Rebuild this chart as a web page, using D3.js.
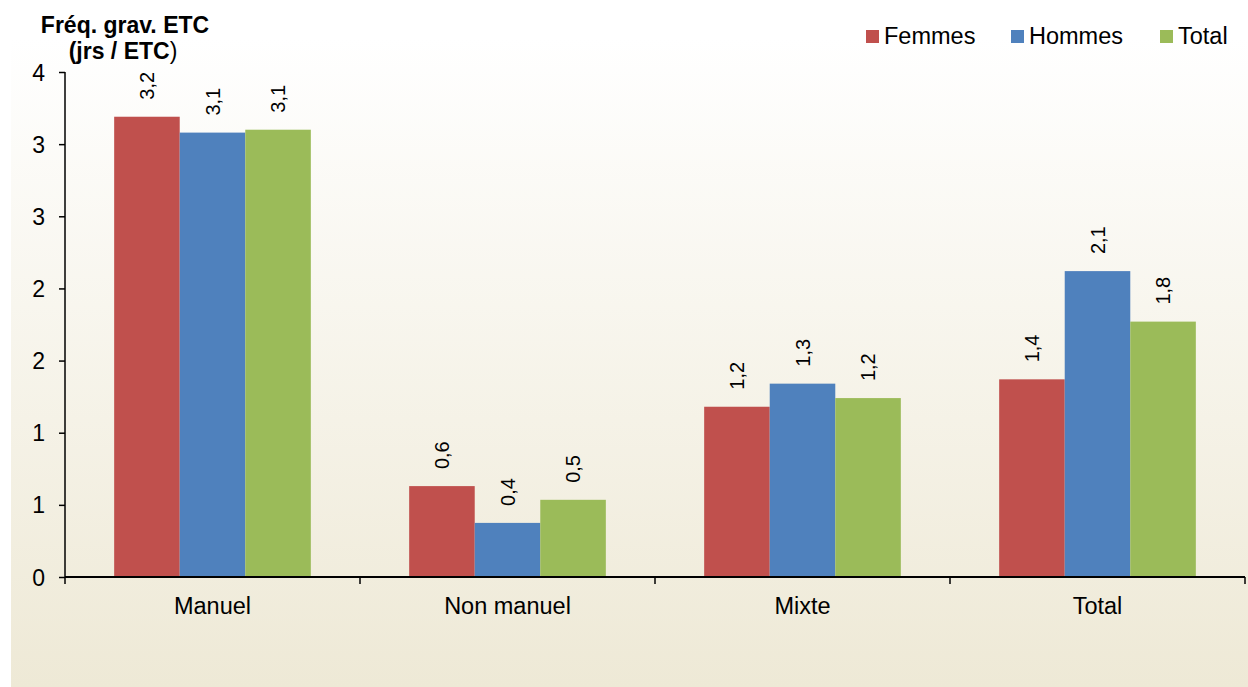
<!DOCTYPE html>
<html>
<head>
<meta charset="utf-8">
<script src="https://cdn.jsdelivr.net/npm/d3@7"></script>
<style>
  body { margin: 0; background: #fff; }
  text { font-family: "Liberation Sans", Arial, sans-serif; fill: #000; }
</style>
</head>
<body>
<svg id="chart" width="1248" height="687"></svg>
<script>
// chart data
var categories = ["Manuel", "Non manuel", "Mixte", "Total"];
var seriesNames = ["Femmes", "Hommes", "Total"];
var femmes = [3.19, 0.63, 1.18, 1.37];
var hommes = [3.08, 0.375, 1.34, 2.12];
var total = [3.10, 0.535, 1.24, 1.77];
var yTicks = [0, 0.5, 1, 1.5, 2, 2.5, 3, 3.5];
var colors = ["#C0504D", "#4F81BD", "#9BBB59"];

var svg = d3.select("#chart");

// background gradient area
var defs = svg.append("defs");
var grad = defs.append("linearGradient")
    .attr("id", "bg").attr("x1", 0).attr("y1", 0).attr("x2", 0).attr("y2", 1);
grad.append("stop").attr("offset", "0%").attr("stop-color", "#FFFFFF");
grad.append("stop").attr("offset", "100%").attr("stop-color", "#EEE9D6");
svg.append("rect")
    .attr("x", 11).attr("y", 38).attr("width", 1237).attr("height", 649)
    .attr("fill", "url(#bg)");

var margin = {top: 72, left: 65, right: 3, bottom: 110};
var width = 1248 - margin.left - margin.right,
    height = 577 - margin.top;

var g = svg.append("g")
    .attr("transform", "translate(" + margin.left + "," + margin.top + ")");

var x0 = d3.scaleBand().domain(categories).range([0, width]).paddingInner(0).paddingOuter(0);
// gap width 150%: category = 4.5 bar widths
var bw = x0.bandwidth() / 4.5;
var x1 = d3.scaleBand().domain(seriesNames).range([0.75 * bw, 3.75 * bw]);

var y = d3.scaleLinear().domain([0, 3.5]).range([height, 0]);

var data = categories.map(function(c, i) {
    return {cat: c, vals: [femmes[i], hommes[i], total[i]]};
});

// bars
var groups = g.selectAll("g.grp").data(data).enter().append("g")
    .attr("class", "grp")
    .attr("transform", function(d) { return "translate(" + x0(d.cat) + ",0)"; });

groups.selectAll("rect")
    .data(function(d) { return d.vals.map(function(v, j) { return {s: seriesNames[j], v: v, j: j}; }); })
    .enter().append("rect")
    .attr("x", function(d) { return x1(d.s); })
    .attr("width", x1.bandwidth())
    .attr("y", function(d) { return y(d.v); })
    .attr("height", function(d) { return height - y(d.v); })
    .attr("fill", function(d) { return colors[d.j]; });

// value labels, rotated
groups.selectAll("text.val")
    .data(function(d) { return d.vals.map(function(v, j) { return {s: seriesNames[j], v: v}; }); })
    .enter().append("text")
    .attr("class", "val")
    .attr("transform", function(d) {
        return "translate(" + (x1(d.s) + x1.bandwidth() / 2 + 7) + "," + (y(d.v) - 17) + ") rotate(-90)";
    })
    .attr("text-anchor", "start")
    .style("font-size", "20px")
    .text(function(d) { return d3.format(".1f")(d.v).replace(".", ","); });

// y axis
var yAxis = g.append("g")
    .call(d3.axisLeft(y).tickValues(yTicks).tickSize(6).tickPadding(14)
        .tickFormat(function(d) { return Math.round(d); }));
yAxis.select(".domain").attr("stroke", "#000").attr("stroke-width", 1.5)
    .attr("d", "M0," + height + "V0");
yAxis.selectAll(".tick line").attr("stroke", "#000").attr("stroke-width", 1.5);
yAxis.selectAll("text").style("font-size", "23px").attr("dy", "0.35em");

// x axis
var xAxis = g.append("g")
    .attr("transform", "translate(0," + height + ")")
    .call(d3.axisBottom(x0).tickSize(0).tickPadding(20));
xAxis.select(".domain").attr("stroke", "#000").attr("stroke-width", 2).attr("d", "M0,0H" + width);
xAxis.selectAll("text").style("font-size", "23.5px");
xAxis.selectAll("line.sep")
    .data(d3.range(categories.length + 1))
    .enter().append("line")
    .attr("class", "sep")
    .attr("x1", function(i) { return i * x0.step(); })
    .attr("x2", function(i) { return i * x0.step(); })
    .attr("y1", 0).attr("y2", 7)
    .attr("stroke", "#000").attr("stroke-width", 1.5);

// title
var title = svg.append("text")
    .attr("x", 125).attr("y", 33)
    .attr("text-anchor", "middle")
    .style("font-size", "23px").style("font-weight", "bold");
title.append("tspan").text("Fréq. grav. ETC");
var t2 = svg.append("text")
    .attr("x", 123).attr("y", 59)
    .attr("text-anchor", "middle")
    .style("font-size", "23px").style("font-weight", "bold");
t2.append("tspan").text("(jrs / ETC");
t2.append("tspan").style("font-weight", "normal").text(")");

// legend
var legendX = [866, 1011, 1160];
var legend = svg.selectAll("g.leg").data(seriesNames).enter().append("g")
    .attr("class", "leg")
    .attr("transform", function(d, i) { return "translate(" + legendX[i] + ",30)"; });
legend.append("rect").attr("width", 13).attr("height", 13)
    .attr("fill", function(d, i) { return colors[i]; });
legend.append("text").attr("x", 18).attr("y", 13.5)
    .style("font-size", "23.5px").text(function(d) { return d; });
</script>
</body>
</html>
